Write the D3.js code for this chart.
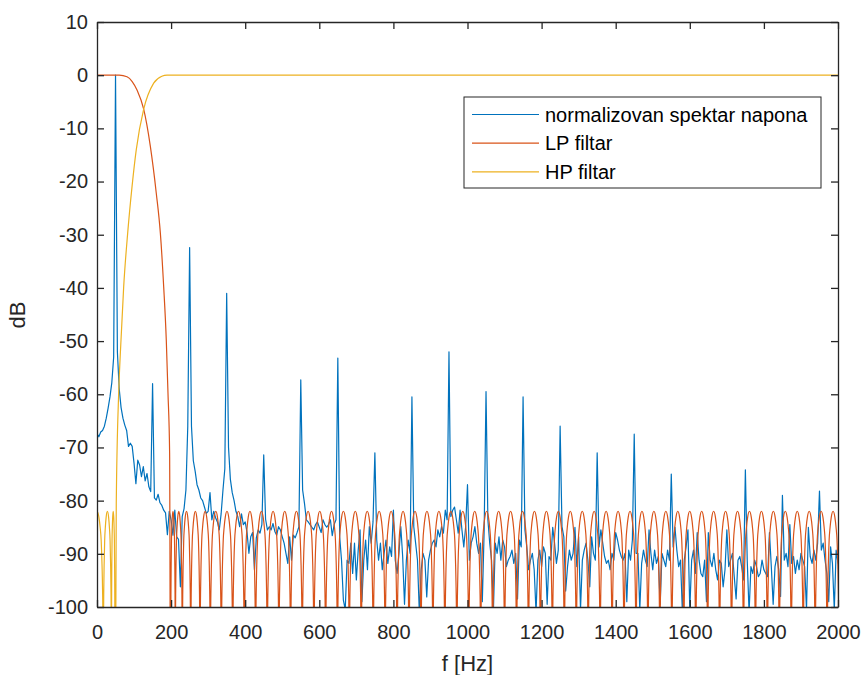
<!DOCTYPE html>
<html>
<head>
<meta charset="utf-8">
<script src="https://cdnjs.cloudflare.com/ajax/libs/d3/7.8.5/d3.min.js"></script>
<style>
    body { margin: 0; background: #fff; }
    svg { display: block; }
</style>
</head>
<body>
<svg id="chart"></svg>
<script>
// axis ticks
const xTicks = [0, 200, 400, 600, 800, 1000, 1200, 1400, 1600, 1800, 2000]
const yTicks = [10, 0, -10, -20, -30, -40, -50, -60, -70, -80, -90, -100]

// normalizovan spektar napona, one value every 5 Hz from 0 to 2000 Hz
const specStep = 5
const specDb = [
    -67.4, -68, -67.1, -66.8, -66, -64.5, -62.6, -60.5, -57.8, -53, 0, -52, -59, -62.5, -64.5, -65.8, -66.8, -69.8, -69.2, -69.8,
    -73, -76.8, -72.4, -73.3, -75.5, -73.6, -76.3, -74.9, -77.4, -78.3, -58, -79.5, -79.9, -78.8, -80.4, -80.9, -81.8, -82.3, -86.4, -82,
    -83.6, -86.5, -81.8, -86.8, -87.3, -96.2, -83, -81.5, -78, -66, -32.4, -66, -72.5, -74.5, -77, -78, -79.5, -80, -81.2, -82.4,
    -82, -78.5, -83.6, -82, -83.2, -84, -85.5, -82.5, -78, -74, -41, -70, -76, -78.5, -80, -82, -83, -84.9, -82.5, -84.5,
    -84, -86, -89.9, -86.8, -86, -93, -87, -85.5, -86.1, -84.5, -71.4, -83.5, -85.5, -84.9, -85.5, -84.3, -85.8, -86.5, -84.9, -85.5,
    -86.8, -88, -89.9, -91.8, -86.8, -91.2, -86.5, -87, -86, -84.9, -57.3, -78, -80.5, -83.6, -84, -84.5, -85, -85.5, -84.5, -84,
    -85, -86, -83.6, -84.5, -85, -84.5, -83.6, -86.6, -84.5, -83.6, -53.2, -86.8, -91.2, -98.7, -100.5, -91.2, -91.8, -88, -93.7, -88,
    -94.9, -89.3, -85.5, -99, -91.2, -87.4, -93, -84.9, -88, -84, -71, -87.4, -91.2, -88, -93, -89.9, -87.4, -91.8, -88.7, -90.5,
    -81.8, -91.2, -93.7, -89.9, -84.9, -90.5, -99.5, -91.2, -87.4, -89.9, -60.5, -84.9, -88, -91.2, -101, -93, -89.9, -91.2, -98.1, -91.2,
    -89.3, -88, -87.4, -88.7, -85.5, -86.8, -84.9, -86.1, -81.8, -83.6, -52, -83, -81.8, -81.2, -83.6, -86.1, -81.8, -85.5, -88.7, -84.9,
    -77, -91.2, -88, -86.8, -84.9, -88, -89.9, -88, -99, -85.5, -59.5, -83.6, -88, -91.2, -100.5, -88, -89.9, -86.8, -91.2, -87.4,
    -88.7, -92.4, -91.2, -90.5, -89.3, -91.8, -89.9, -98.5, -87.4, -88.7, -60.5, -85.5, -88.7, -93, -91.2, -89.9, -93, -101, -91.2, -89.3,
    -92.4, -88.7, -89.9, -99.5, -90.5, -91.2, -85, -88, -91.8, -89.3, -66, -84.9, -86.8, -97, -92.4, -89.3, -91.2, -89.9, -85, -92.4,
    -86.8, -100.5, -91.2, -89.3, -88, -91.2, -96.2, -86.8, -89.9, -91.2, -71, -88.7, -85.5, -88, -90.5, -91.8, -91.2, -93, -89.9, -91.2,
    -86, -87.4, -89.3, -90.5, -91.2, -89.9, -99, -89.3, -91.2, -87.4, -67.5, -89.9, -89.9, -100.5, -91.8, -89.3, -91.2, -92.4, -85.5, -89.9,
    -93, -89.3, -91.8, -90.5, -99.5, -89.9, -91.2, -92.4, -89.3, -91.2, -75, -88.7, -85, -89.3, -92.4, -91.2, -101, -91.2, -88.7, -85.5,
    -100.5, -91.2, -89.3, -93.7, -86, -91.2, -93.7, -94.3, -91.2, -99, -86, -91.2, -92.4, -89.9, -93, -94.9, -91.2, -91.8, -96.2, -93,
    -85.5, -92.4, -91.2, -89.9, -94.3, -98.5, -91.2, -90.5, -92.4, -94.9, -74.2, -91.2, -101, -92.4, -93.7, -91.2, -92.4, -94.3, -93.7, -91.2,
    -93, -93.7, -94.3, -86, -92.4, -99.5, -92.4, -90.5, -93, -98, -79, -91.2, -89.9, -92.4, -84.5, -91.8, -90.5, -93.7, -91.2, -93,
    -89.9, -91.2, -92.4, -100.5, -85, -90.5, -91.8, -89.3, -91.2, -88, -78.2, -89.3, -88, -91.2, -93.7, -99, -88.7, -91.8, -100.5, -89.3,
    -91.8
]

// LP filtar: passband / transition, then stopband nulls
const lpPassF = [0, 60, 81, 95, 108, 126, 144, 160, 171, 180, 187, 191.6, 196]
const lpPassDb = [0, 0, -0.3, -1.2, -2.8, -6.4, -13.4, -22.2, -29.7, -39.8, -49.8, -59.8, -71]
const lpNulls = [198.9, 211.3, 230.2, 252.9, 278, 305.8, 335.5, 366.2, 397.6, 428, 459.5, 491, 522.5, 554, 585.5, 617, 649, 681,
    713.2, 745.5, 777.7, 810, 842.2, 874.4, 906.7, 938.9, 971.2, 1003.4, 1035.6, 1067.9, 1100.1, 1132.4, 1164.6, 1196.8, 1229.1,
    1261.3, 1293.6, 1325.8, 1358, 1390.3, 1422.5, 1454.8, 1487, 1519.2, 1551.5, 1583.7, 1616, 1648.2, 1680.4, 1712.7, 1744.9,
    1777.2, 1809.4, 1841.6, 1873.9, 1906.1, 1938.4, 1970.6, 2002.8]
const lpSideDb = -82

// HP filtar: stopband nulls, then transition / passband
const hpNulls = [-17, 17, 39, 48.5]
const hpSideDb = -82
const hpRiseF = [52, 58.5, 64.8, 72, 82.8, 94.5, 106, 126, 153, 175, 189, 2000]
const hpRiseDb = [-80.5, -59.8, -49.8, -39.8, -29.7, -21, -14, -6.4, -1.5, -0.2, 0, 0]

// shape of one sidelobe (position inside the lobe, dB below its peak)
const lobeFrac = [0.03, 0.06, 0.1, 0.17, 0.25, 0.35, 0.5, 0.65, 0.75, 0.83, 0.9, 0.94, 0.97]
const lobeRel = [-20.5, -14.6, -10.2, -5.4, -3, -1.1, 0, -1.1, -3, -5.4, -10.2, -14.6, -20.5]
const nullDb = -140

const legendNames = ['normalizovan spektar napona', 'LP filtar', 'HP filtar']
const colors = ['#0072BD', '#D95319', '#EDB120']

const W = 862, H = 675
const plot = {left: 97, right: 838, top: 22, bottom: 607}
const FONT = '"Liberation Sans", Arial, Helvetica, sans-serif'
const AXC = '#262626'

const svg = d3.select('#chart')
    .attr('width', W)
    .attr('height', H)

const x = d3.scaleLinear().domain([0, 2000]).range([plot.left, plot.right])
const y = d3.scaleLinear().domain([-100, 10]).range([plot.bottom, plot.top])

svg.append('defs').append('clipPath')
    .attr('id', 'clip')
    .append('rect')
    .attr('x', plot.left)
    .attr('y', plot.top)
    .attr('width', plot.right - plot.left)
    .attr('height', plot.bottom - plot.top)

function lobes(nulls, sideDb){
    const pts = [[nulls[0], nullDb]]
    for(let i = 0; i < nulls.length - 1; i++){
        const a = nulls[i], b = nulls[i + 1]
        lobeFrac.forEach((t, j) => pts.push([a + t * (b - a), sideDb + lobeRel[j]]))
        pts.push([b, nullDb])
    }
    return pts
}

const spectrum = specDb.map((v, i) => [i * specStep, v])
const lp = lpPassF.map((f, i) => [f, lpPassDb[i]]).concat(lobes(lpNulls, lpSideDb))
const hp = lobes(hpNulls, hpSideDb).concat(hpRiseF.map((f, i) => [f, hpRiseDb[i]]))

const lineLin = d3.line().x(d => x(d[0])).y(d => y(d[1]))
const lineSmooth = d3.line().x(d => x(d[0])).y(d => y(d[1])).curve(d3.curveMonotoneX)

const lines = svg.append('g').attr('clip-path', 'url(#clip)')
lines.append('path').datum(spectrum)
    .attr('d', lineLin).attr('fill', 'none')
    .attr('stroke', colors[0]).attr('stroke-width', 1.2).attr('stroke-linejoin', 'round')
lines.append('path').datum(lp)
    .attr('d', lineSmooth).attr('fill', 'none')
    .attr('stroke', colors[1]).attr('stroke-width', 1.2)
lines.append('path').datum(hp)
    .attr('d', lineSmooth).attr('fill', 'none')
    .attr('stroke', colors[2]).attr('stroke-width', 1.2)

// axes, ticks pointing inwards on all four sides
function styleAxis(g){
    g.attr('font-family', FONT).attr('font-size', 20)
    g.select('.domain').attr('stroke', AXC).attr('stroke-width', 1.3)
    g.selectAll('.tick line').attr('stroke', AXC).attr('stroke-width', 1.3)
    g.selectAll('.tick text').attr('fill', AXC)
}

svg.append('g')
    .attr('transform', `translate(0,${plot.bottom})`)
    .call(d3.axisBottom(x).tickValues(xTicks).tickSizeInner(-7).tickSizeOuter(0).tickPadding(18).tickFormat(d => String(d)))
    .call(styleAxis)
svg.append('g')
    .attr('transform', `translate(0,${plot.top})`)
    .call(d3.axisTop(x).tickValues(xTicks).tickSizeInner(-7).tickSizeOuter(0).tickFormat(() => ''))
    .call(styleAxis)
svg.append('g')
    .attr('transform', `translate(${plot.left},0)`)
    .call(d3.axisLeft(y).tickValues(yTicks).tickSizeInner(-7).tickSizeOuter(0).tickPadding(9).tickFormat(d => String(d)))
    .call(styleAxis)
svg.append('g')
    .attr('transform', `translate(${plot.right},0)`)
    .call(d3.axisRight(y).tickValues(yTicks).tickSizeInner(-7).tickSizeOuter(0).tickFormat(() => ''))
    .call(styleAxis)

svg.append('text')
    .attr('transform', 'translate(25,315) rotate(-90)')
    .attr('text-anchor', 'middle')
    .attr('font-family', FONT).attr('font-size', 22).attr('fill', AXC)
    .text('dB')
svg.append('text')
    .attr('x', (plot.left + plot.right) / 2)
    .attr('y', 671)
    .attr('text-anchor', 'middle')
    .attr('font-family', FONT).attr('font-size', 22).attr('fill', AXC)
    .text('f [Hz]')

// legend
const legend = svg.append('g').attr('transform', 'translate(464,97)')
legend.append('rect')
    .attr('width', 357).attr('height', 91)
    .attr('fill', '#fff').attr('stroke', AXC).attr('stroke-width', 1)
legendNames.forEach((name, i) => {
    const ly = 17.5 + i * 28.7
    legend.append('line')
        .attr('x1', 8).attr('x2', 75).attr('y1', ly).attr('y2', ly)
        .attr('stroke', colors[i]).attr('stroke-width', 1.2)
    legend.append('text')
        .attr('x', 81).attr('y', ly + 7)
        .attr('font-family', FONT).attr('font-size', 20).attr('fill', '#000')
        .text(name)
})
</script>
</body>
</html>
